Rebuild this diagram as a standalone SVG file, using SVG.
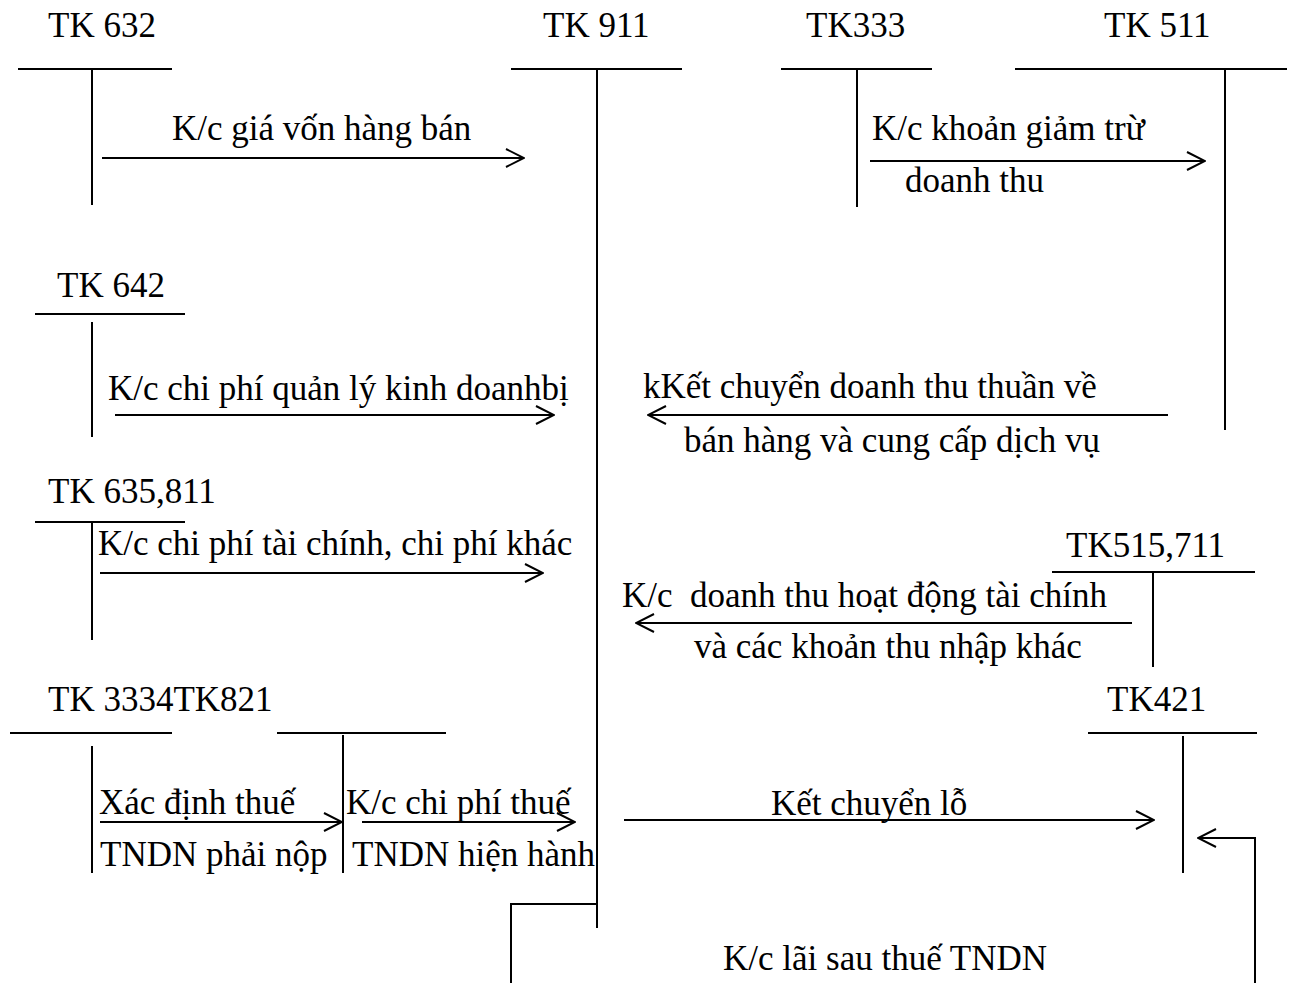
<svg xmlns="http://www.w3.org/2000/svg" width="1290" height="983" viewBox="0 0 1290 983">
<style>
text{font-family:"Liberation Serif","Times New Roman",serif;font-size:35px;fill:#000}
.l{stroke:#000;stroke-width:2;fill:none}
.a{stroke:#000;stroke-width:2;fill:none;marker-end:url(#ah)}
</style>
<defs>
<marker id="ah" viewBox="0 0 20 20" refX="19" refY="10" markerWidth="20" markerHeight="20" markerUnits="userSpaceOnUse" orient="auto">
<path d="M1,1 L19,10 L1,19" fill="none" stroke="#000" stroke-width="2"/>
</marker>
</defs>
<rect width="1290" height="983" fill="#fff"/>
<g id="tk632">
<text x="48" y="37">TK 632</text>
<line class="l" x1="18" y1="69" x2="172" y2="69"/>
<line class="l" x1="92" y1="69" x2="92" y2="205"/>
</g>
<g id="tk911">
<text x="543" y="37">TK 911</text>
<line class="l" x1="511" y1="69" x2="682" y2="69"/>
<line class="l" x1="597" y1="69" x2="597" y2="928"/>
</g>
<g id="tk333">
<text x="806" y="37">TK333</text>
<line class="l" x1="781" y1="69" x2="932" y2="69"/>
<line class="l" x1="857" y1="69" x2="857" y2="207"/>
</g>
<g id="tk511">
<text x="1104" y="37">TK 511</text>
<line class="l" x1="1015" y1="69" x2="1287" y2="69"/>
<line class="l" x1="1225" y1="69" x2="1225" y2="430"/>
</g>
<g id="tk642">
<text x="57" y="297">TK 642</text>
<line class="l" x1="35" y1="314" x2="185" y2="314"/>
<line class="l" x1="92" y1="322" x2="92" y2="437"/>
</g>
<g id="tk635">
<text x="48" y="503">TK 635,811</text>
<line class="l" x1="35" y1="522" x2="185" y2="522"/>
<line class="l" x1="92" y1="522" x2="92" y2="640"/>
</g>
<g id="tk515">
<text x="1066" y="557">TK515,711</text>
<line class="l" x1="1052" y1="572" x2="1255" y2="572"/>
<line class="l" x1="1153" y1="572" x2="1153" y2="667"/>
</g>
<g id="tk3334">
<text x="48" y="711">TK 3334TK821</text>
<line class="l" x1="10" y1="733" x2="172" y2="733"/>
<line class="l" x1="92" y1="746" x2="92" y2="873"/>
</g>
<g id="tk821">
<line class="l" x1="277" y1="733" x2="446" y2="733"/>
<line class="l" x1="343" y1="735" x2="343" y2="873"/>
</g>
<g id="tk421">
<text x="1107" y="711">TK421</text>
<line class="l" x1="1088" y1="733" x2="1257" y2="733"/>
<line class="l" x1="1183" y1="736" x2="1183" y2="873"/>
</g>
<g id="connectors">
<line class="a" x1="102" y1="158" x2="524" y2="158"/>
<line class="a" x1="870" y1="161" x2="1205" y2="161"/>
<line class="a" x1="115" y1="415" x2="554" y2="415"/>
<line class="a" x1="1168" y1="415" x2="648" y2="415"/>
<line class="a" x1="100" y1="573" x2="543" y2="573"/>
<line class="a" x1="1132" y1="623" x2="636" y2="623"/>
<line class="a" x1="100" y1="822" x2="342" y2="822"/>
<line class="a" x1="362" y1="822" x2="575" y2="822"/>
<line class="a" x1="624" y1="820" x2="1154" y2="820"/>
<polyline class="l" points="597,904 511,904 511,983"/>
<polyline class="a" points="1255,983 1255,838 1198,838"/>
</g>
<g id="labels">
<text x="172" y="140">K/c giá vốn hàng bán</text>
<text x="872" y="140">K/c khoản giảm trừ</text>
<text x="905" y="192">doanh thu</text>
<text x="108" y="400">K/c chi phí quản lý kinh doanhbị</text>
<text x="643" y="398">kKết chuyển doanh thu thuần về</text>
<text x="684" y="452">bán hàng và cung cấp dịch vụ</text>
<text x="98" y="555">K/c chi phí tài chính, chi phí khác</text>
<text x="622" y="607" xml:space="preserve">K/c  doanh thu hoạt động tài chính</text>
<text x="694" y="658">và các khoản thu nhập khác</text>
<text x="99" y="814">Xác định thuế</text>
<text x="346" y="814">K/c chi phí thuế</text>
<text x="100" y="866">TNDN phải nộp</text>
<text x="352" y="866">TNDN hiện hành</text>
<text x="771" y="815">Kết chuyển lỗ</text>
<text x="723" y="970">K/c lãi sau thuế TNDN</text>
</g>
</svg>
